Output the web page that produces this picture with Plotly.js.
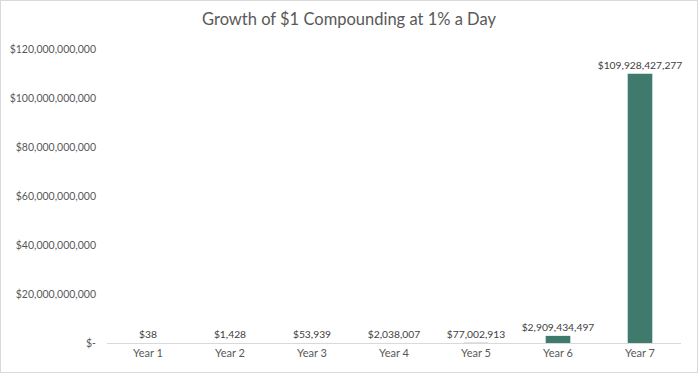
<!DOCTYPE html>
<html>
<head>
<meta charset="utf-8">
<script src="https://cdn.plot.ly/plotly-3.0.1.min.js"></script>
<style>
  html, body { margin: 0; padding: 0; background: #fff; }
  #chart { width: 696px; height: 371px; border: 1px solid #d9d9d9; }
</style>
</head>
<body>
<div id="chart"></div>
<script>
const categories = ["Year 1", "Year 2", "Year 3", "Year 4", "Year 5", "Year 6", "Year 7"];
const values = [38, 1428, 53939, 2038007, 77002913, 2909434497, 109928427277];
const yTickVals = [0, 20e9, 40e9, 60e9, 80e9, 100e9, 120e9];
const yTickText = ["$-", "$20,000,000,000", "$40,000,000,000", "$60,000,000,000", "$80,000,000,000", "$100,000,000,000", "$120,000,000,000"];

const font = "Lato, 'Open Sans', sans-serif";

Plotly.newPlot("chart", [{
  type: "bar",
  x: categories,
  y: values,
  marker: { color: "#3f7a6d" },
  texttemplate: "$%{y:,.0f}",
  textposition: "outside",
  textfont: { family: font, size: 10.3, color: "#404040" },
  constraintext: "none",
  cliponaxis: false,
  hoverinfo: "x+y"
}], {
  width: 696,
  height: 371,
  margin: { l: 106, r: 16, t: 48, b: 29 },
  paper_bgcolor: "#ffffff",
  plot_bgcolor: "#ffffff",
  bargap: 0.7,
  showlegend: false,
  uniformtext: { minsize: 10, mode: "show" },
  title: {
    text: "Growth of $1 Compounding at 1% a Day",
    font: { family: font, size: 16.5, color: "#595959" },
    x: 0.5, xanchor: "center",
    y: 0.952, yanchor: "middle"
  },
  xaxis: {
    showline: true, linecolor: "#d9d9d9", linewidth: 1,
    showgrid: false, ticks: "", zeroline: false,
    tickfont: { family: font, size: 11, color: "#595959" }
  },
  yaxis: {
    range: [0, 120e9],
    tickvals: yTickVals,
    ticktext: yTickText,
    showgrid: false, zeroline: false, showline: false, ticks: "",
    ticklabelstandoff: 10,
    tickfont: { family: font, size: 10.5, color: "#595959" }
  }
}, { displayModeBar: false, staticPlot: true });
</script>
</body>
</html>
